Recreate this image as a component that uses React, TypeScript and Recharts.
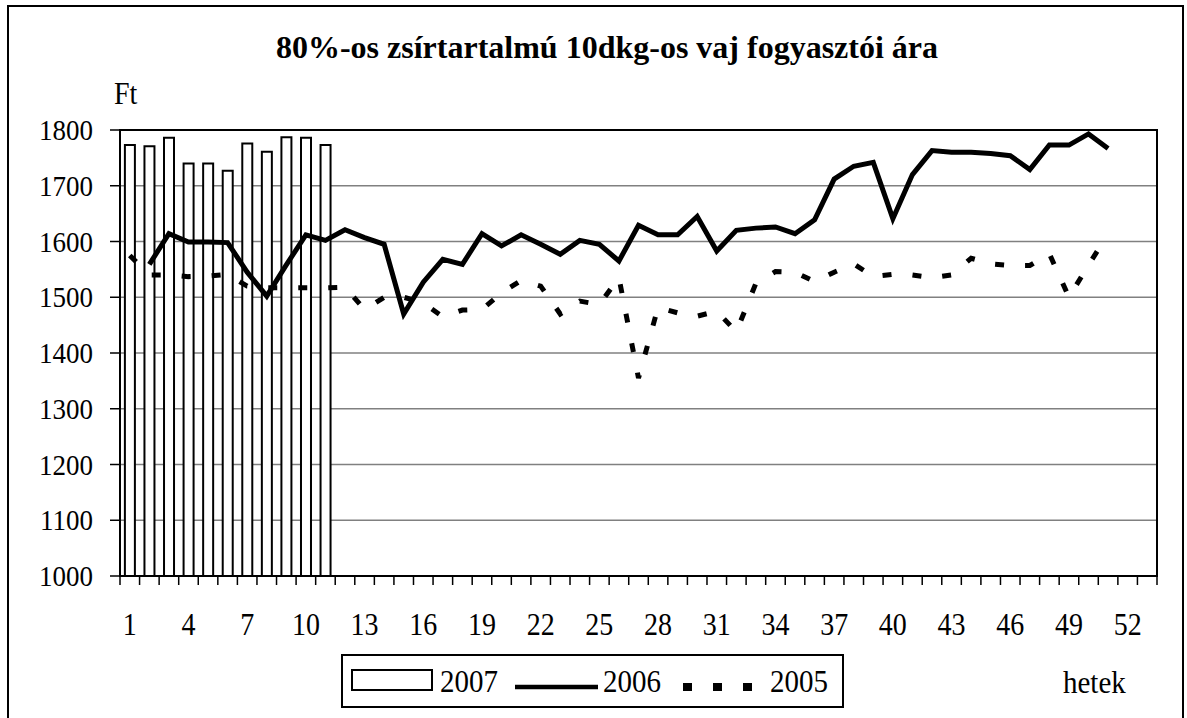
import React from 'react';
import { ComposedChart, Bar, Line, XAxis, YAxis, CartesianGrid, ReferenceArea } from 'recharts';

const WEEKS = Array.from({ length: 53 }, (_, i) => i + 1);

const Y_TICKS = [1000, 1100, 1200, 1300, 1400, 1500, 1600, 1700, 1800];

const PRICES_2007 = [1773, 1771, 1786, 1740, 1740, 1727, 1776, 1761, 1787, 1786, 1773];

const PRICES_2006 = [
    null, 1559, 1614, 1599, 1599, 1598, 1545, 1502, 1558, 1612,
    1602, 1621, 1607, 1595, 1470, 1527, 1568, 1559, 1614, 1592,
    1612, 1595, 1577, 1602, 1595, 1565, 1629, 1612, 1612, 1645,
    1583, 1620, 1624, 1626, 1614, 1639, 1712, 1735, 1742, 1641,
    1720, 1763, 1760, 1760, 1758, 1754, 1729, 1773, 1773, 1793,
    1767,
];

const PRICES_2005 = [
    1575, 1540, 1540, 1537, 1538, 1541, 1520, 1517, 1517, 1517,
    1517, 1518, 1478, 1500, 1500, 1490, 1465, 1477, 1478, 1508,
    1530, 1520, 1470, 1493, 1487, 1535, 1355, 1482, 1472, 1466,
    1475, 1438, 1525, 1546, 1545, 1528, 1545, 1560, 1537, 1541,
    1540, 1535, 1540, 1570, 1560, 1557, 1557, 1578, 1500, 1558,
    1613,
];

const TITLE = '80%-os zsírtartalmú 10dkg-os vaj fogyasztói ára';
const Y_UNIT = 'Ft';
const X_UNIT = 'hetek';

const data = WEEKS.map((w, i) => ({
    week: w,
    y2007: PRICES_2007[i] ?? null,
    y2006: PRICES_2006[i] ?? null,
    y2005: PRICES_2005[i] ?? null,
}));

const FONT = '"Liberation Serif", "Times New Roman", Times, serif';
const STRETCH = 1.12;
const W = 1187;
const H = 718;
const PLOT_LEFT = 120;
const PLOT_RIGHT = 1157;
const HALF_STEP = (PLOT_RIGHT - PLOT_LEFT) / WEEKS.length / 2;

const YTick = (props: any) => {
    const { x, y, payload } = props;
    return (
        <g transform={`translate(${x},${y}) scale(1,${STRETCH})`}>
            <text textAnchor="end" y={9} fontSize={27} fontFamily={FONT} fill="#000">
                {payload.value}
            </text>
        </g>
    );
};

const XTick = (props: any) => {
    const { x, y, payload, index } = props;
    const half = payload.offset || HALF_STEP;
    const showLabel = (payload.value - 1) % 3 === 0;
    return (
        <g>
            <line x1={x - half} x2={x - half} y1={y} y2={y + 9} stroke="#000" strokeWidth={1.5} />
            {index === WEEKS.length - 1 && (
                <line x1={x + half} x2={x + half} y1={y} y2={y + 9} stroke="#000" strokeWidth={1.5} />
            )}
            {showLabel && (
                <g transform={`translate(${x},${y + 59}) scale(1,${STRETCH})`}>
                    <text textAnchor="middle" fontSize={28} fontFamily={FONT} fill="#000">
                        {payload.value}
                    </text>
                </g>
            )}
        </g>
    );
};

const Overlay = () => (
    <svg width={W} height={H} style={{ position: 'absolute', left: 0, top: 0, pointerEvents: 'none' }}>
        <text x={607} y={58} textAnchor="middle" fontSize={32} fontWeight="bold" fontFamily={FONT}>{TITLE}</text>
        <g transform={`translate(114,104) scale(1,${STRETCH})`}>
            <text fontSize={28} fontFamily={FONT}>{Y_UNIT}</text>
        </g>
        <g transform={`translate(1063,693) scale(1,${STRETCH})`}>
            <text fontSize={29} fontFamily={FONT}>{X_UNIT}</text>
        </g>
        {/* legend */}
        <rect x={342} y={655} width={501} height={52} fill="#fff" stroke="#000" strokeWidth={2} />
        <rect x={352} y={670} width={80} height={20} fill="#fff" stroke="#000" strokeWidth={2} />
        <g transform={`translate(440,692) scale(1,${STRETCH})`}>
            <text fontSize={29} fontFamily={FONT}>2007</text>
        </g>
        <line x1={515} x2={598} y1={687} y2={687} stroke="#000" strokeWidth={4.5} />
        <g transform={`translate(603,692) scale(1,${STRETCH})`}>
            <text fontSize={29} fontFamily={FONT}>2006</text>
        </g>
        <line x1={683} x2={760} y1={687} y2={687} stroke="#000" strokeWidth={8} strokeDasharray="9 21" />
        <g transform={`translate(770,692) scale(1,${STRETCH})`}>
            <text fontSize={29} fontFamily={FONT}>2005</text>
        </g>
    </svg>
);

export default function App() {
    return (
        <div style={{ position: 'fixed', left: 0, top: 0, width: W, height: H, background: '#fff', overflow: 'hidden', fontFamily: FONT }}>
            <div style={{ position: 'absolute', left: 7, top: 5, width: 1173, height: 730, border: '2.5px solid #000' }} />
            <div style={{ position: 'absolute', left: 0, top: 0 }}>
                <ComposedChart
                    width={W}
                    height={H}
                    data={data}
                    margin={{ top: 130, right: W - PLOT_RIGHT, bottom: 82, left: 60 }}
                    barCategoryGap="25%"
                >
                    <CartesianGrid horizontal vertical={false} stroke="#808080" strokeWidth={1.5} />
                    <XAxis
                        dataKey="week"
                        interval={0}
                        height={60}
                        tickSize={0}
                        tickMargin={0}
                        tickLine={false}
                        axisLine={{ stroke: '#000', strokeWidth: 2 }}
                        tick={<XTick />}
                    />
                    <YAxis
                        domain={[1000, 1800]}
                        ticks={Y_TICKS}
                        width={60}
                        tickSize={10}
                        tickMargin={17}
                        allowDataOverflow
                        tickLine={{ stroke: '#000', strokeWidth: 1.5 }}
                        axisLine={{ stroke: '#000', strokeWidth: 2 }}
                        tick={<YTick />}
                    />
                    <Bar dataKey="y2007" fill="#fff" stroke="#000" strokeWidth={2} isAnimationActive={false} />
                    <Line
                        dataKey="y2005"
                        stroke="#000"
                        strokeWidth={5}
                        strokeDasharray="9 21"
                        dot={false}
                        activeDot={false}
                        isAnimationActive={false}
                    />
                    <Line
                        dataKey="y2006"
                        stroke="#000"
                        strokeWidth={5}
                        dot={false}
                        activeDot={false}
                        isAnimationActive={false}
                    />
                    <ReferenceArea y1={1000} y2={1800} fill="none" stroke="#000" strokeWidth={2} ifOverflow="visible" />
                </ComposedChart>
            </div>
            <Overlay />
        </div>
    );
}
